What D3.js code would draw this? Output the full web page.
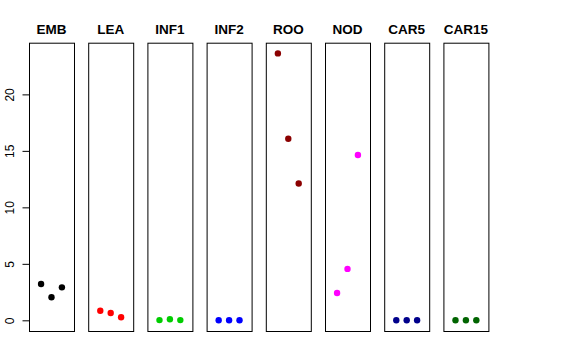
<!DOCTYPE html>
<html>
<head>
<meta charset="utf-8">
<script src="https://cdn.jsdelivr.net/npm/d3@7"></script>
<style>
  body { margin: 0; background: #fff; }
  svg { font-family: "Liberation Sans", Arial, sans-serif; }
</style>
</head>
<body>
<svg id="chart" width="576" height="360"></svg>
<script>
// panels and their three values each
var groups = ["EMB", "LEA", "INF1", "INF2", "ROO", "NOD", "CAR5", "CAR15"];
var colors = ["#000000", "#ff0000", "#00cd00", "#0000ff", "#8b0000", "#ff00ff", "#00008b", "#006400"];
var values = [
  [3.22, 2.04, 2.92],
  [0.85, 0.65, 0.27],
  [0.02, 0.1, 0.02],
  [0, 0, 0],
  [23.63, 16.07, 12.11],
  [2.42, 4.55, 14.63],
  [0, 0, 0],
  [0, 0, 0]
];
var yTicks = [0, 5, 10, 15, 20];

var svg = d3.select("#chart");

var plotTop = 42.7, plotBottom = 331;

// panels across the page
var xBand = d3.scaleBand()
  .domain(groups)
  .range([29, 488.4])
  .paddingInner(0.24)
  .paddingOuter(0);

// x inside a panel, like R xlim c(0,4) plus 4%
var xIn = d3.scaleLinear()
  .domain([-0.16, 4.16])
  .range([0, xBand.bandwidth()]);

// shared y, R style padding 4%
var all = values.flat();
var ymin = d3.min(all), ymax = d3.max(all);
var pad = (ymax - ymin) * 0.04;
var y = d3.scaleLinear()
  .domain([ymin - pad, ymax + pad])
  .range([plotBottom, plotTop]);

var panel = svg.selectAll("g.panel")
  .data(groups)
  .enter()
  .append("g")
    .attr("class", "panel")
    .attr("transform", d => `translate(${xBand(d)},0)`);

panel.append("rect")
  .attr("x", 0.5)
  .attr("y", plotTop + 0.5)
  .attr("width", xBand.bandwidth())
  .attr("height", plotBottom - plotTop)
  .attr("fill", "none")
  .attr("stroke", "#000")
  .attr("stroke-width", 1);

panel.append("text")
  .attr("x", xBand.bandwidth() / 2)
  .attr("y", 34)
  .attr("text-anchor", "middle")
  .attr("font-weight", "bold")
  .attr("font-size", "13.5px")
  .text(d => d);

panel.selectAll("circle")
  .data((d, i) => values[i].map((v, j) => ({ x: j + 1, v: v, c: colors[i] })))
  .enter()
  .append("circle")
    .attr("cx", d => xIn(d.x))
    .attr("cy", d => y(d.v))
    .attr("r", 3.2)
    .attr("fill", d => d.c);

// left axis, ticks outward, rotated labels
var axisG = svg.append("g")
  .attr("transform", `translate(${xBand(groups[0]) + 0.5},0)`)
  .call(d3.axisLeft(y).tickValues(yTicks).tickSize(7).tickSizeOuter(0).tickFormat(d3.format("d")));

axisG.select(".domain")
  .attr("d", `M0,${y(0)}V${y(20)}`)
  .attr("stroke", "#000");
axisG.selectAll(".tick line").attr("stroke", "#000");
axisG.selectAll(".tick text")
  .attr("font-size", "12px")
  .attr("font-family", "Liberation Sans, Arial, sans-serif")
  .attr("fill", "#000")
  .attr("text-anchor", "middle")
  .attr("x", null)
  .attr("dy", null)
  .attr("transform", "translate(-16,0) rotate(-90)");
</script>
</body>
</html>
